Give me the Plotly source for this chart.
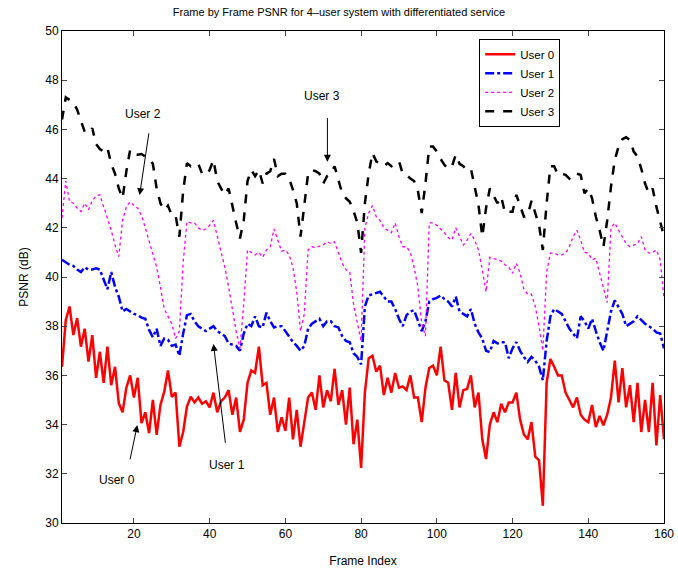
import plotly.graph_objects as go

frames = list(range(1, 161))

user0 = [36.35, 38.25, 38.8, 37.64, 38.33, 37.17, 37.9, 36.56, 37.64, 35.9,
         36.96, 35.7, 37.17, 35.6, 36.35, 34.87, 34.5, 35.5, 36.0, 35.1,
         35.9, 34.06, 34.5, 33.65, 35.0, 33.58, 34.8, 35.34, 36.2, 35.13,
         35.3, 33.1, 33.7, 34.73, 35.13, 34.9, 35.1, 34.85, 34.95, 34.7,
         35.3, 34.5, 34.95, 35.1, 35.4, 34.4, 35.1, 33.7, 34.2, 35.7,
         36.2, 36.1, 37.17, 35.6, 35.7, 34.4, 35.1, 33.7, 34.3, 33.75,
         35.1, 33.4, 34.6, 33.1, 34.1, 35.1, 35.3, 34.6, 36.0, 34.7,
         35.4, 34.95, 36.27, 34.8, 35.4, 34.0, 35.5, 33.2, 34.2, 32.24,
         35.3, 36.7, 36.8, 36.15, 36.4, 35.2, 35.9, 35.3, 36.1, 35.5,
         35.55, 35.4, 36.0, 35.1, 35.1, 34.1, 35.5, 36.3, 36.4, 36.0,
         37.17, 35.8, 35.7, 34.6, 36.1, 34.7, 35.4, 35.45, 36.0, 34.7,
         35.3, 33.4, 32.6, 34.0, 34.5, 34.1, 34.85, 34.5, 34.9, 34.9,
         35.3, 34.2, 33.6, 33.4, 34.1, 32.7, 32.55, 30.7, 35.7, 36.67,
         36.35, 36.0, 36.0, 35.3, 35.0, 34.7, 35.1, 34.4, 34.2, 34.1,
         34.8, 33.9, 34.35, 33.97, 34.4, 35.1, 36.6, 34.9, 36.3, 34.7,
         35.6, 34.1, 35.7, 33.7, 35.0, 33.7, 35.7, 33.15, 35.2, 33.4]

user1 = [40.7, 40.6, 40.5, 40.45, 40.3, 40.2, 40.4, 40.3, 40.3, 40.35,
         40.3, 39.9, 39.5, 40.2, 39.6, 39.2, 38.6, 38.7, 38.6, 38.5,
         38.45, 38.35, 38.3, 37.85, 37.55, 37.9, 37.2, 37.5, 37.45, 37.2,
         37.25, 36.8, 37.7, 38.45, 38.5, 38.2, 38.0, 37.9, 37.8, 37.9,
         38.0, 37.8, 37.7, 37.6, 37.3, 37.25, 37.2, 37.0, 37.7, 38.1,
         38.0, 38.4, 38.0, 37.95, 38.55, 38.2, 37.95, 38.0, 38.0, 37.8,
         37.55, 37.35, 37.2, 37.0, 37.2, 37.9, 38.1, 38.2, 38.3, 38.0,
         38.2, 38.2, 38.0, 37.95, 37.6, 37.4, 37.35, 36.9, 36.75, 36.45,
         38.8, 39.25, 39.3, 39.35, 39.4, 39.2, 39.0, 39.0, 38.7, 38.3,
         38.0, 38.45, 38.6, 38.65, 38.2, 37.8, 38.2, 39.0, 39.1, 39.15,
         39.25, 39.1, 39.0, 38.8, 39.2, 38.6, 38.5, 38.4, 38.7, 38.1,
         37.75, 37.5, 37.0, 36.95, 37.4, 37.3, 37.35, 37.35, 36.7, 37.1,
         37.35, 37.0, 36.75, 36.55, 36.75, 36.6, 36.35, 35.8, 37.4, 38.4,
         38.7, 38.6, 38.5, 38.2, 37.9, 37.7, 37.5, 38.4, 38.2, 37.9,
         38.3, 37.8, 37.35, 37.0, 37.75, 38.6, 39.05, 38.8, 38.5, 38.0,
         38.1, 38.2, 38.4, 38.25, 38.1, 38.0, 37.9, 37.75, 37.7, 37.1]

user2 = [42.4, 43.9, 43.06, 43.0, 42.8, 42.66, 43.0, 42.73, 43.1, 43.3,
         43.34, 42.85, 42.3, 41.9, 41.3, 40.83, 42.3, 42.85, 43.06, 42.9,
         42.8, 42.5, 42.0, 41.5, 41.0, 40.4, 39.6, 38.7, 38.4, 38.1,
         37.5, 37.8, 40.6, 42.25, 42.2, 42.2, 42.0, 41.9, 41.95, 42.1,
         42.3, 41.64, 41.0, 40.4, 39.6, 38.6, 37.8, 37.1, 38.9, 41.1,
         41.0, 40.9, 41.0, 40.8, 41.1, 41.23, 41.95, 41.5, 41.05, 41.1,
         40.9, 40.4, 39.4, 37.8, 38.5, 41.1, 41.23, 41.2, 41.25, 41.3,
         41.43, 41.36, 41.43, 41.0, 40.56, 40.3, 40.2, 38.9, 38.1, 37.4,
         42.0, 42.6, 42.9, 42.45, 42.3, 42.0, 41.9, 41.8, 42.2, 41.64,
         41.23, 41.23, 41.0, 40.4, 39.6, 38.1, 37.6, 42.2, 42.2, 42.1,
         41.95, 41.8, 41.6, 41.5, 42.0, 41.64, 41.3, 41.5, 41.77, 41.5,
         41.1, 40.3, 39.4, 40.8, 40.76, 40.7, 40.65, 40.5, 40.4, 40.15,
         40.56, 40.15, 39.5, 39.3, 39.3, 38.8, 38.0, 37.0, 40.2, 40.97,
         40.97, 40.9, 40.9, 40.97, 41.23, 41.64, 41.9, 41.5, 41.0, 40.97,
         40.7, 40.76, 40.15, 39.5, 38.96, 42.0, 42.2, 41.9, 41.64, 41.36,
         41.23, 41.3, 41.36, 41.64, 41.1, 40.97, 41.0, 41.1, 40.7, 39.1]

user3 = [46.4, 47.3, 47.2, 47.1, 46.8, 46.3, 45.9, 45.85, 46.05, 45.4,
         45.2, 45.1, 45.25, 44.6, 44.2, 43.6, 43.2, 44.3, 45.17, 45.0,
         44.97, 45.0, 44.9, 44.8, 44.6, 43.6, 43.0, 42.72, 42.9, 42.5,
         42.5, 41.64, 43.5, 44.63, 44.5, 44.6, 44.6, 44.2, 44.15, 44.35,
         44.76, 43.9, 43.6, 43.34, 43.6, 42.85, 42.2, 41.57, 42.3, 43.9,
         44.35, 44.1, 44.35, 43.8, 44.2, 44.3, 44.8, 44.1, 44.2, 44.2,
         44.0, 43.54, 43.0, 41.64, 42.9, 44.2, 44.35, 44.3, 44.2, 43.8,
         44.1, 44.2, 44.5, 43.9, 43.4, 43.2, 43.06, 42.7, 42.2, 40.98,
         43.0, 44.2, 45.04, 44.7, 44.6, 44.5, 44.63, 44.5, 44.6, 44.7,
         44.2, 44.15, 44.0, 43.9, 43.5, 42.6, 43.8, 45.3, 45.3, 45.1,
         44.8, 44.56, 44.4, 44.5, 44.97, 44.6, 44.5, 44.35, 44.4, 43.6,
         42.93, 41.64, 42.8, 43.6, 43.27, 43.0, 43.27, 42.6, 42.65, 42.65,
         43.34, 42.85, 42.45, 42.5, 43.1, 42.6, 42.1, 41.1, 43.0, 44.5,
         44.5, 44.15, 44.2, 44.15, 44.0, 44.2, 44.2, 44.15, 43.4, 43.6,
         43.2, 42.45, 41.9, 41.23, 42.3, 43.67, 44.76, 45.3, 45.6, 45.68,
         45.57, 45.1, 44.9, 44.4, 43.8, 43.4, 43.6, 42.85, 42.25, 41.64]

series_names = ["User 0", "User 1", "User 2", "User 3"]
x_ticks = [20, 40, 60, 80, 100, 120, 140, 160]
y_ticks = [30, 32, 34, 36, 38, 40, 42, 44, 46, 48, 50]

# annotations: label, text position, arrow tail, arrow tip (data coords)
ann_labels = ["User 2", "User 3", "User 0", "User 1"]
ann_text_xy = [(22.3, 46.63), (69.8, 47.36), (15.4, 31.75), (44.5, 32.36)]
ann_tail_xy = [(24.0, 45.9), (71.1, 46.52), (18.9, 32.53), (44.2, 33.2)]
ann_tip_xy = [(21.5, 43.33), (71.1, 44.69), (20.9, 33.98), (41.0, 37.28)]

FONT = "Liberation Sans, Arial, sans-serif"

fig = go.Figure()
fig.add_trace(go.Scatter(x=frames, y=user0, mode="lines", name=series_names[0],
                         line=dict(color="#FF0000", width=2.5)))
fig.add_trace(go.Scatter(x=frames, y=user1, mode="lines", name=series_names[1],
                         line=dict(color="#0000FF", width=2.5, dash="dashdot")))
fig.add_trace(go.Scatter(x=frames, y=user2, mode="lines", name=series_names[2],
                         line=dict(color="#FF00FF", width=1.3, dash="dot")))
fig.add_trace(go.Scatter(x=frames, y=user3, mode="lines", name=series_names[3],
                         line=dict(color="#000000", width=2.5, dash="dash")))

annotations = []
for lab, txy, tail, tip in zip(ann_labels, ann_text_xy, ann_tail_xy, ann_tip_xy):
    annotations.append(dict(x=tip[0], y=tip[1], ax=tail[0], ay=tail[1],
                            xref="x", yref="y", axref="x", ayref="y",
                            text="", showarrow=True, arrowhead=2, arrowsize=1.4,
                            arrowwidth=1, arrowcolor="black"))
    annotations.append(dict(x=txy[0], y=txy[1], xref="x", yref="y", text=lab,
                            showarrow=False, font=dict(family=FONT, size=12, color="black")))

fig.update_layout(
    width=678, height=573,
    margin=dict(l=62, r=14, t=31, b=50, autoexpand=False),
    paper_bgcolor="white", plot_bgcolor="white",
    title=dict(text="Frame by Frame PSNR for 4\u2013user system with differentiated service",
               x=0.5, xanchor="center", y=0.979, yanchor="middle",
               font=dict(family=FONT, size=11, color="black")),
    font=dict(family=FONT, size=12, color="black"),
    showlegend=True,
    legend=dict(x=0.693, y=0.984, xanchor="left", yanchor="top",
                bgcolor="white", bordercolor="black", borderwidth=1,
                font=dict(family=FONT, size=11.5, color="black"),
                itemwidth=30, tracegroupgap=0),
    annotations=annotations,
)
fig.update_xaxes(range=[1, 160], tickvals=x_ticks, ticks="inside", ticklen=5,
                 showline=True, linecolor="black", linewidth=1, mirror="ticks",
                 showgrid=False, zeroline=False, automargin=False,
                 title=dict(text="Frame Index", font=dict(family=FONT, size=12), standoff=16),
                 tickfont=dict(family=FONT, size=12))
fig.update_yaxes(range=[30, 50], tickvals=y_ticks, ticks="inside", ticklen=5,
                 showline=True, linecolor="black", linewidth=1, mirror="ticks",
                 showgrid=False, zeroline=False, automargin=False,
                 title=dict(text="PSNR (dB)", font=dict(family=FONT, size=12), standoff=14),
                 tickfont=dict(family=FONT, size=12))

fig.write_html("out.html")
